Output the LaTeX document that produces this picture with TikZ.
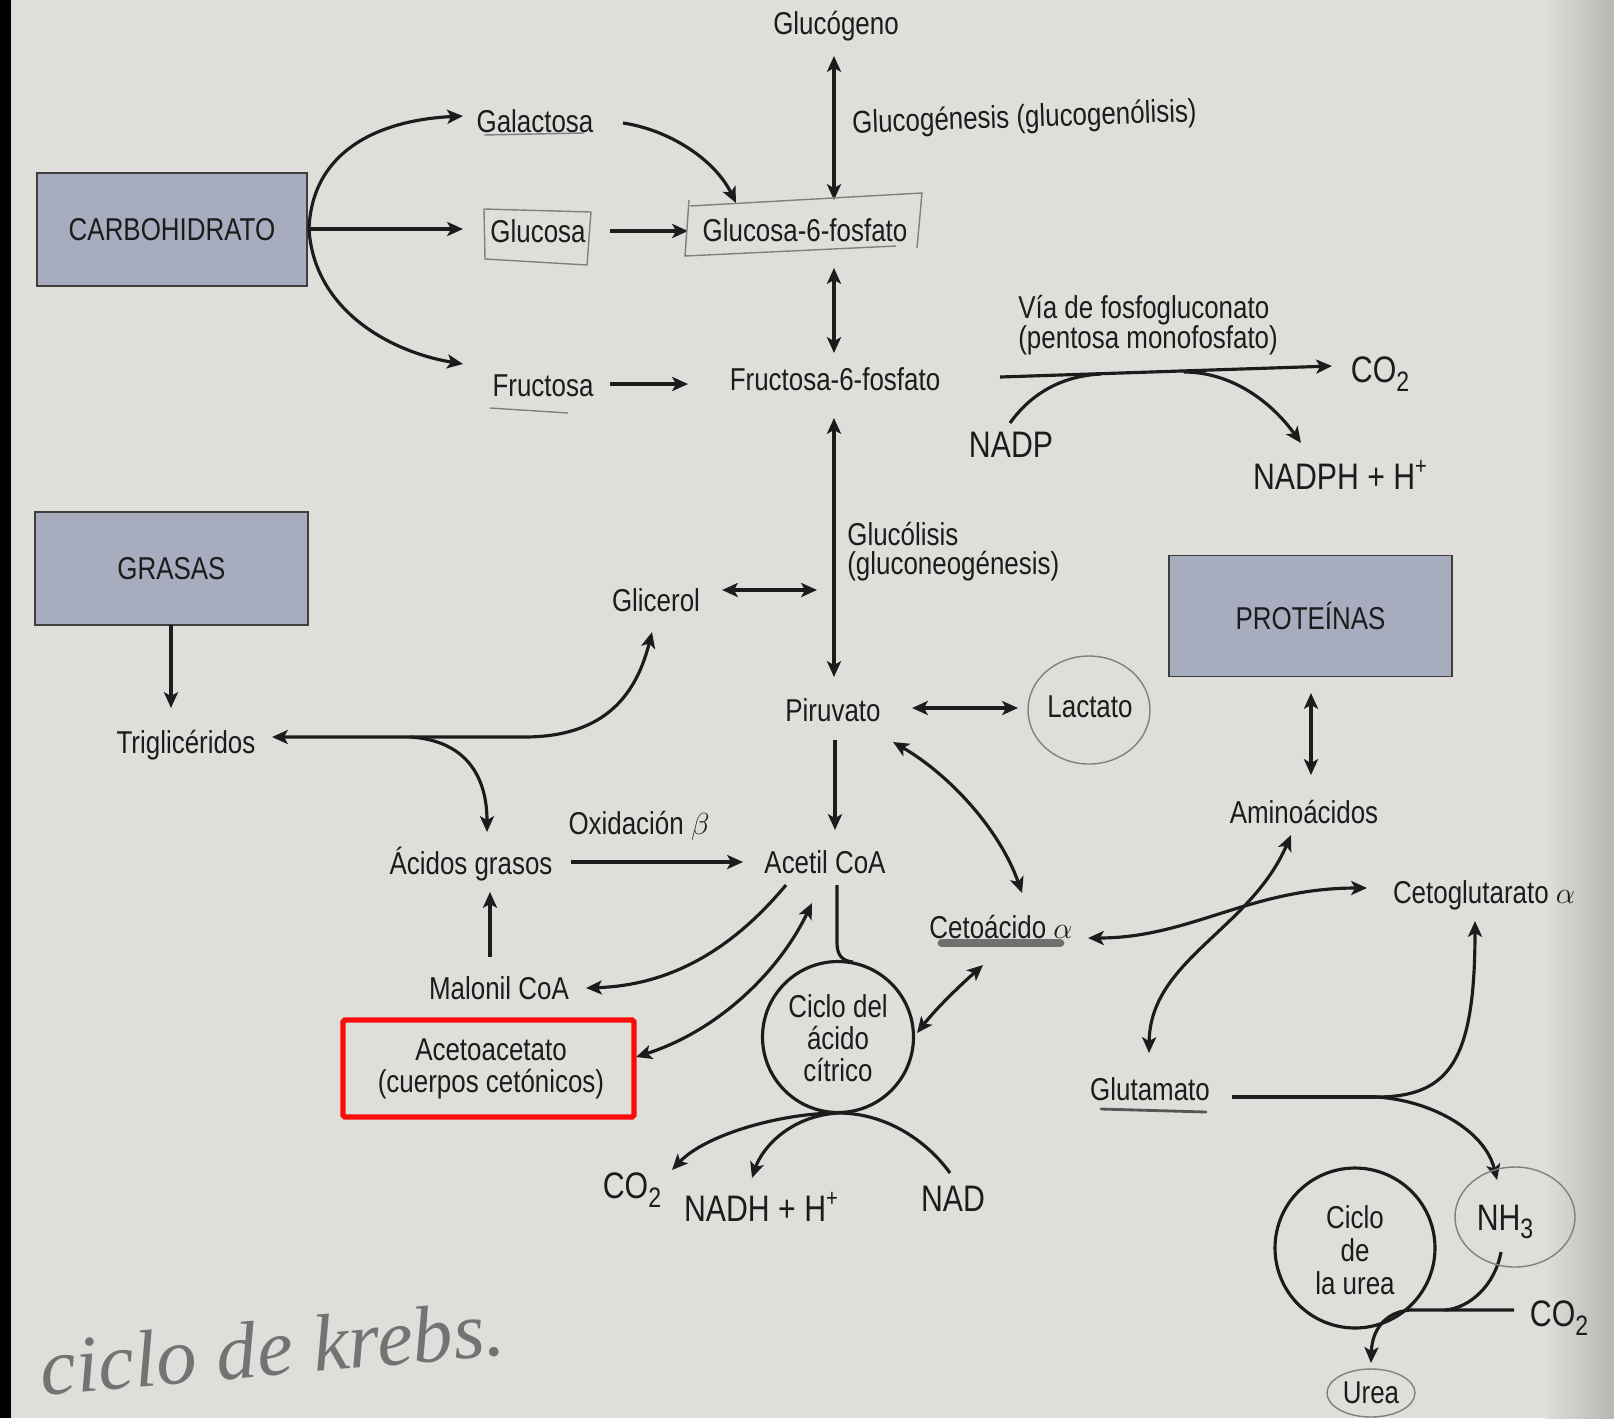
\documentclass[tikz,border=0pt]{standalone}
\usepackage{fontspec}
\setmainfont{Liberation Sans}[FakeStretch=0.82]
\newfontfamily\handfont{Liberation Serif}
\usetikzlibrary{arrows.meta}
\definecolor{paper}{RGB}{223,222,219}
\definecolor{ink}{RGB}{28,28,28}
\definecolor{boxfill}{RGB}{168,172,191}
\definecolor{pencil}{RGB}{128,128,128}
\definecolor{hlred}{RGB}{248,12,12}
\definecolor{marker}{RGB}{85,85,85}
\newcommand\chemsub[1]{\raisebox{-0.45ex}{\fontsize{16}{16}\selectfont #1}}
\newcommand\chemsup[1]{\raisebox{0.75ex}{\fontsize{14}{14}\selectfont #1}}
\begin{document}
\begin{tikzpicture}[x=0.02cm,y=-0.02cm,
  lbl/.style={text=ink,inner sep=0pt,font=\fontsize{18}{18.2}\selectfont},
  big/.style={text=ink,inner sep=0pt,font=\fontsize{21}{21}\selectfont},
  fbox/.style={draw=ink!85,line width=1.1pt,fill=boxfill,inner sep=0pt,text=ink,font=\fontsize{18}{18}\selectfont},
  conn/.style={draw=ink,line width=1.8pt},
  tip/.tip={Stealth[length=9pt,width=8pt,inset=2.2pt]},
  arr/.style={conn,-tip},
  darr/.style={conn,tip-tip},
  pen/.style={draw=pencil,line width=0.8pt},
]
\path[use as bounding box] (0,0) rectangle (1614,1418);
\fill[paper] (0,0) rectangle (1614,1418);
\fill[left color=paper,right color=paper!82!black] (1545,0) rectangle (1614,1418);
\fill[black] (0,0) rectangle (11,1418);

% ---------- boxes ----------
\node[fbox,minimum width=5.4cm,minimum height=2.26cm] (carb) at (172,229.5) {CARBOHIDRATO};
\node[fbox,minimum width=5.46cm,minimum height=2.26cm] (grasas) at (171.5,568.5) {GRASAS};
\node[fbox,minimum width=5.66cm,minimum height=2.42cm] (prot) at (1310.5,616) {PROTEÍNAS};

% ---------- labels ----------
\node[lbl] (glucogeno) at (836,26) {Glucógeno};
\node[lbl,anchor=west,rotate=2] (glucogenesis) at (852,125) {Glucogénesis (glucogenólisis)};
\node[lbl] (galactosa) at (535,121) {Galactosa};
\node[lbl] (glucosa) at (538,231) {Glucosa};
\node[lbl] (fructosa) at (543,386) {Fructosa};
\node[lbl] (g6p) at (805,230) {Glucosa-6-fosfato};
\node[lbl] (f6p) at (835,379) {Fructosa-6-fosfato};
\node[lbl,anchor=west,align=left,font=\fontsize{18}{17}\selectfont] (via) at (1018,325) {Vía de fosfogluconato\\(pentosa monofosfato)};
\node[big] (co2a) at (1380,374) {CO\chemsub{2}};
\node[big] (nadp) at (1011,445) {NADP};
\node[big] (nadph) at (1340,475) {NADPH + H\chemsup{+}};
\node[lbl,anchor=west,align=left,font=\fontsize{18}{16.6}\selectfont] (glucolisis) at (847,552) {Glucólisis\\(gluconeogénesis)};
\node[lbl] (glicerol) at (656,600) {Glicerol};
\node[lbl] (trig) at (186,745) {Triglicéridos};
\node[lbl] (acgr) at (471,864) {Ácidos grasos};
\node[lbl] (oxb) at (639,826) {Oxidación $\beta$};
\node[lbl] (acetil) at (825,862) {Acetil CoA};
\node[lbl] (malonil) at (499,988) {Malonil CoA};
\node[lbl,align=center] (aceto) at (491,1069) {Acetoacetato\\(cuerpos cetónicos)};
\node[lbl] (piruvato) at (833,710) {Piruvato};
\node[lbl] (lactato) at (1090,707) {Lactato};
\node[lbl] (cetoac) at (1001,927) {Cetoácido $\alpha$};
\node[lbl] (amino) at (1304,812) {Aminoácidos};
\node[lbl] (cetoglu) at (1484,895) {Cetoglutarato $\alpha$};
\node[lbl] (glutamato) at (1150,1089) {Glutamato};
\node[big] (nh3) at (1505,1222) {NH\chemsub{3}};
\node[big] (co2c) at (1559,1318) {CO\chemsub{2}};
\node[lbl] (urea) at (1371,1393) {Urea};
\node[big] (co2b) at (632,1190) {CO\chemsub{2}};
\node[big] (nadh) at (761,1207) {NADH + H\chemsup{+}};
\node[big] (nad) at (953,1199) {NAD};

% cycles
\node[circle,draw=ink,line width=1.8pt,minimum size=3.02cm,inner sep=0pt] (tca) at (838,1037) {};
\node[lbl,align=center] (tcatext) at (838,1038) {Ciclo del\\ácido\\cítrico};
\node[circle,draw=ink,line width=1.8pt,minimum size=3.2cm,inner sep=0pt] (ureac) at (1355,1248) {};
\node[lbl,align=center,font=\fontsize{18}{18.8}\selectfont] (ureatext) at (1355,1250) {Ciclo\\de\\la urea};

% ---------- connector end points ----------
\coordinate (carbOut) at (309,229);
\coordinate (galIn) at (463,116);
\coordinate (gluIn) at (463,229);
\coordinate (fruIn) at (463,364);
\coordinate (galOut) at (623,123);
\coordinate (g6pTop) at (736,203);
\coordinate (gluOut) at (610,231);
\coordinate (g6pL) at (688,231);
\coordinate (fruOut) at (610,384);
\coordinate (f6pL) at (688,384);
\coordinate (glcgB) at (834,56);
\coordinate (g6pT) at (834,200);
\coordinate (g6pB) at (834,268);
\coordinate (f6pT) at (834,353);
\coordinate (f6pB) at (834,418);
\coordinate (pirT) at (834,677);
\coordinate (pentS) at (1000,377);
\coordinate (pentE) at (1332,366);
\coordinate (nadpS) at (1010,423);
\coordinate (nadpJ) at (1101,374);
\coordinate (nadphJ) at (1184,372);
\coordinate (nadphE) at (1301,443);
\coordinate (grasB) at (171,625);
\coordinate (trigT) at (171,708);
\coordinate (trigR) at (272,737);
\coordinate (trigK) at (524,737);
\coordinate (glicB) at (652,632);
\coordinate (brS) at (410,737);
\coordinate (acgrT) at (487,832);
\coordinate (glicR) at (722,590);
\coordinate (glucolL) at (817,590);
\coordinate (acgrR) at (571,862);
\coordinate (acetL) at (743,862);
\coordinate (malT) at (490,957);
\coordinate (acgrB) at (490,892);
\coordinate (acetBL) at (786,885);
\coordinate (malR) at (586,988);
\coordinate (acetB2) at (812,903);
\coordinate (acetoR) at (636,1057);
\coordinate (acetB) at (837,885);
\coordinate (tcaTop) at (853,962);
\coordinate (tcaBot) at (838,1113);
\coordinate (co2bT) at (672,1170);
\coordinate (nadhT) at (752,1178);
\coordinate (nadT) at (950,1173);
\coordinate (pirB) at (835,740);
\coordinate (acetT) at (835,830);
\coordinate (pirR) at (912,708);
\coordinate (lacL) at (1018,708);
\coordinate (pirBR) at (893,742);
\coordinate (cetoT) at (1022,893);
\coordinate (cetoB) at (983,965);
\coordinate (tcaR) at (917,1033);
\coordinate (protB) at (1311,693);
\coordinate (aminoT) at (1311,775);
\coordinate (cetoR) at (1088,938);
\coordinate (cgluL) at (1367,888);
\coordinate (gluT) at (1149,1053);
\coordinate (aminoB) at (1291,835);
\coordinate (gluR) at (1232,1097);
\coordinate (fork) at (1376,1097);
\coordinate (cgluB) at (1475,921);
\coordinate (nh3T) at (1497,1180);
\coordinate (nh3B) at (1501,1252);
\coordinate (nh3J) at (1445,1310);
\coordinate (co2cL) at (1514,1310);
\coordinate (ureaT) at (1371,1363);

% ---------- connectors ----------
\draw[darr] (glcgB) -- (g6pT);
\draw[arr] (carbOut) .. controls (312,150) and (380,120) .. (galIn);
\draw[arr] (carbOut) -- (gluIn);
\draw[arr] (carbOut) .. controls (314,310) and (390,352) .. (fruIn);
\draw[arr] (galOut) .. controls (670,130) and (715,160) .. (g6pTop);
\draw[arr] (gluOut) -- (g6pL);
\draw[arr] (fruOut) -- (f6pL);
\draw[darr] (g6pB) -- (f6pT);
\draw[darr] (f6pB) -- (pirT);
\draw[arr] (pentS) -- (pentE);
\draw[conn] (nadpS) .. controls (1030,395) and (1060,376) .. (nadpJ);
\draw[arr] (nadphJ) .. controls (1230,372) and (1270,400) .. (nadphE);

\draw[arr] (grasB) -- (trigT);
\draw[darr] (trigR) -- (trigK) .. controls (600,737) and (635,700) .. (glicB);
\draw[arr] (brS) .. controls (460,740) and (487,770) .. (acgrT);
\draw[darr] (glicR) -- (glucolL);
\draw[arr] (acgrR) -- (acetL);
\draw[arr] (malT) -- (acgrB);
\draw[arr] (acetBL) .. controls (740,940) and (680,985) .. (malR);
\draw[darr] (acetB2) .. controls (780,970) and (720,1030) .. (acetoR);
\draw[conn] (acetB) -- (837,943) .. controls (837,956) and (843,961) .. (tcaTop);
\draw[arr] (tcaBot) .. controls (780,1113) and (705,1135) .. (co2bT);
\draw[arr] (tcaBot) .. controls (790,1116) and (762,1148) .. (nadhT);
\draw[conn] (tcaBot) .. controls (890,1113) and (930,1145) .. (nadT);

\draw[arr] (pirB) -- (acetT);
\draw[darr] (pirR) -- (lacL);
\draw[darr] (pirBR) .. controls (950,775) and (1000,830) .. (cetoT);
\draw[darr] (cetoB) .. controls (955,990) and (935,1010) .. (tcaR);
\draw[darr] (protB) -- (aminoT);
\draw[darr] (cetoR) .. controls (1190,938) and (1250,888) .. (cgluL);
\draw[darr] (gluT) .. controls (1150,960) and (1250,930) .. (aminoB);
\draw[conn] (gluR) -- (fork);
\draw[arr] (fork) .. controls (1450,1097) and (1475,1060) .. (cgluB);
\draw[arr] (fork) .. controls (1430,1100) and (1485,1130) .. (nh3T);
\draw[conn] (nh3B) .. controls (1495,1285) and (1470,1308) .. (nh3J);
\draw[arr] (co2cL) -- (1410,1310) .. controls (1385,1312) and (1372,1330) .. (ureaT);

% ---------- pencil marks ----------
\draw[pen] (484,209) -- (591,212) -- (587,265) -- (485,259) -- cycle;
\draw[pen] (690,206) -- (922,193) -- (917,248);
\draw[pen] (689,200) -- (685,256) -- (896,246);
\draw[pen] (484,135) -- (584,133);
\draw[pen] (490,408) -- (568,413);
\draw[pen] (1089,710) ellipse [x radius=61, y radius=54];
\draw[pen] (1515,1217) ellipse [x radius=60, y radius=50];
\draw[pen] (1371,1393) ellipse [x radius=44, y radius=24];
\draw[marker,line width=5pt,line cap=round,opacity=0.8] (942,943) -- (1060,943);
\draw[marker,line width=1.6pt,line cap=round] (1101,1109) -- (1206,1112);
\node[text=pencil!90!black,inner sep=0pt,rotate=5,font=\handfont\itshape\fontsize{46}{46}\selectfont] (hand) at (272,1348) {ciclo de krebs.};

% ---------- highlight ----------
\node[draw=hlred,line width=3pt,rounded corners=1pt,minimum width=5.82cm,minimum height=1.94cm,inner sep=0pt] (redbox) at (488.5,1068.5) {};
\end{tikzpicture}
\end{document}
